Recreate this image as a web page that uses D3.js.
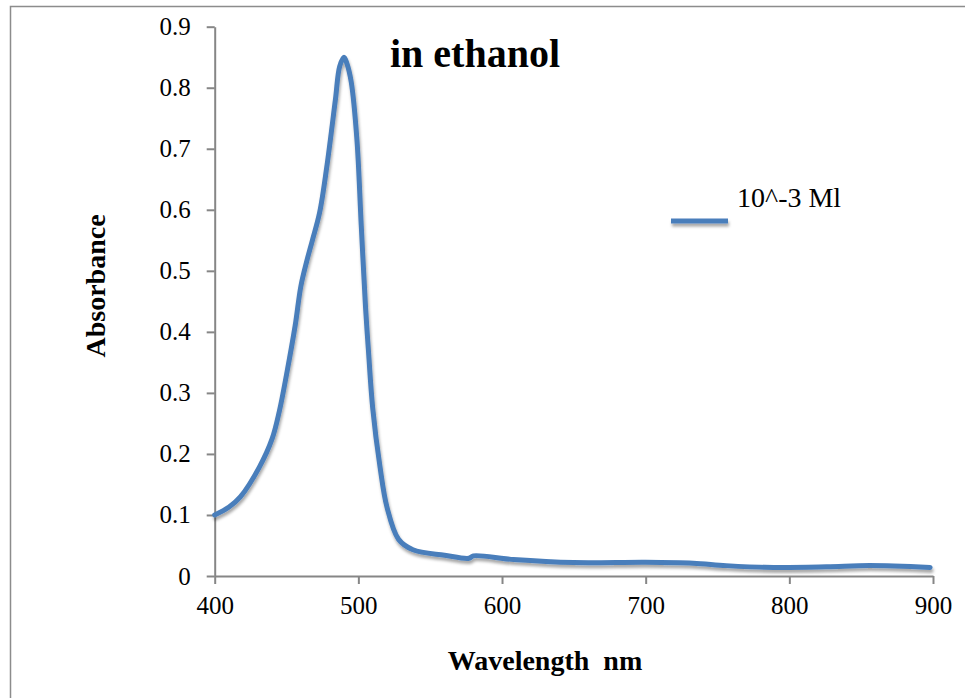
<!DOCTYPE html>
<html>
<head>
<meta charset="utf-8">
<script src="https://cdn.jsdelivr.net/npm/d3@7"></script>
<style>
  html, body { margin: 0; padding: 0; background: #ffffff; }
  svg { display: block; }
</style>
</head>
<body>
<div id="chart"></div>
<script>
// Spectrum (wavelength nm / absorbance)
const wavelengths = [400, 410, 418, 431, 440, 445, 450, 456, 460, 464, 468, 473, 478, 484, 487, 490, 492, 495, 499, 502, 505, 507, 510, 515, 520, 528, 538, 560, 577, 580, 608, 650, 700, 733, 756, 789, 826, 856, 898]
const absorbance  = [0.100, 0.113, 0.130, 0.178, 0.225, 0.270, 0.330, 0.410, 0.475, 0.515, 0.550, 0.595, 0.670, 0.780, 0.835, 0.850, 0.840, 0.810, 0.715, 0.575, 0.440, 0.370, 0.275, 0.180, 0.112, 0.060, 0.043, 0.034, 0.029, 0.033, 0.027, 0.022, 0.0225, 0.021, 0.017, 0.014, 0.015, 0.017, 0.014]

const xTicks = [400, 500, 600, 700, 800, 900]
const yTicks = [0, 0.1, 0.2, 0.3, 0.4, 0.5, 0.6, 0.7, 0.8, 0.9]
const yTickLabels = ['0', '0.1', '0.2', '0.3', '0.4', '0.5', '0.6', '0.7', '0.8', '0.9']

const seriesName = '10^-3 Ml'
const chartTitle = 'in ethanol'
const xTitle = 'Wavelength\u00a0\u00a0nm'
const yTitle = 'Absorbance'

const W = 965
const H = 698
const LINE_COLOR = '#4a7ebb'
const AXIS_COLOR = '#868686'
const SERIF = "'Liberation Serif', 'Times New Roman', serif"

const svg = d3.select('#chart')
  .append('svg')
  .attr('width', W)
  .attr('height', H)

// soft drop shadow like the Excel line (user space so flat lines keep it)
const defs = svg.append('defs')
const shadow = defs.append('filter')
  .attr('id', 'shadow')
  .attr('filterUnits', 'userSpaceOnUse')
  .attr('x', -W).attr('y', -H)
  .attr('width', 3 * W).attr('height', 3 * H)
shadow.append('feDropShadow')
  .attr('dx', 1).attr('dy', 3)
  .attr('stdDeviation', 1.6)
  .attr('flood-color', '#000')
  .attr('flood-opacity', 0.35)

// chart frame (only top + left edges visible)
svg.append('path')
  .attr('d', `M10.5,${H} V6.5 H${W}`)
  .attr('fill', 'none')
  .attr('stroke', '#8c8c8c')
  .attr('stroke-width', 1.5)

const x = d3.scaleLinear().domain([400, 900]).range([214.7, 933])
const y = d3.scaleLinear().domain([0, 0.9]).range([576, 26.7])

// x axis
const xAxis = svg.append('g')
  .attr('transform', `translate(0,${y(0)})`)
  .call(d3.axisBottom(x).tickValues(xTicks).tickSize(8).tickPadding(12).tickSizeOuter(0))
xAxis.select('.domain').attr('stroke', AXIS_COLOR).attr('stroke-width', 2)
xAxis.selectAll('.tick line').attr('stroke', AXIS_COLOR).attr('stroke-width', 2)
xAxis.selectAll('.tick text')
  .attr('font-family', SERIF)
  .attr('font-size', '25px')
  .attr('fill', '#000')
  .attr('dy', '0.71em')

// y axis
const yAxis = svg.append('g')
  .attr('transform', `translate(${x(400)},0)`)
  .call(d3.axisLeft(y).tickValues(yTicks).tickSize(8).tickPadding(16).tickSizeOuter(0)
    .tickFormat((d, i) => yTickLabels[i]))
yAxis.select('.domain').attr('stroke', AXIS_COLOR).attr('stroke-width', 2)
yAxis.selectAll('.tick line').attr('stroke', AXIS_COLOR).attr('stroke-width', 2)
yAxis.selectAll('.tick text')
  .attr('font-family', SERIF)
  .attr('font-size', '25px')
  .attr('fill', '#000')

// spectrum line
const points = wavelengths.map((w, i) => [w, absorbance[i]])
const line = d3.line()
  .x(d => x(d[0]))
  .y(d => y(d[1]))
  .curve(d3.curveCatmullRom.alpha(0.5))

svg.append('path')
  .datum(points)
  .attr('d', line)
  .attr('fill', 'none')
  .attr('stroke', LINE_COLOR)
  .attr('stroke-width', 5)
  .attr('stroke-linejoin', 'round')
  .attr('stroke-linecap', 'round')
  .attr('filter', 'url(#shadow)')

// chart title
svg.append('text')
  .attr('x', 390)
  .attr('y', 67)
  .attr('font-family', SERIF)
  .attr('font-weight', 'bold')
  .attr('font-size', '40px')
  .attr('fill', '#000')
  .text(chartTitle)

// axis titles
svg.append('text')
  .attr('x', 545)
  .attr('y', 670)
  .attr('text-anchor', 'middle')
  .attr('font-family', SERIF)
  .attr('font-weight', 'bold')
  .attr('font-size', '28px')
  .attr('fill', '#000')
  .text(xTitle)

svg.append('text')
  .attr('transform', 'translate(105,286) rotate(-90)')
  .attr('text-anchor', 'middle')
  .attr('font-family', SERIF)
  .attr('font-weight', 'bold')
  .attr('font-size', '28px')
  .attr('fill', '#000')
  .text(yTitle)

// legend
const legend = svg.append('g').attr('transform', 'translate(671,221)')
legend.append('line')
  .attr('x1', 0).attr('x2', 57)
  .attr('y1', 0).attr('y2', 0)
  .attr('stroke', LINE_COLOR)
  .attr('stroke-width', 5)
  .attr('filter', 'url(#shadow)')
legend.append('text')
  .attr('x', 66)
  .attr('y', -14)
  .attr('font-family', SERIF)
  .attr('font-size', '28px')
  .attr('fill', '#000')
  .text(seriesName)
</script>
</body>
</html>
